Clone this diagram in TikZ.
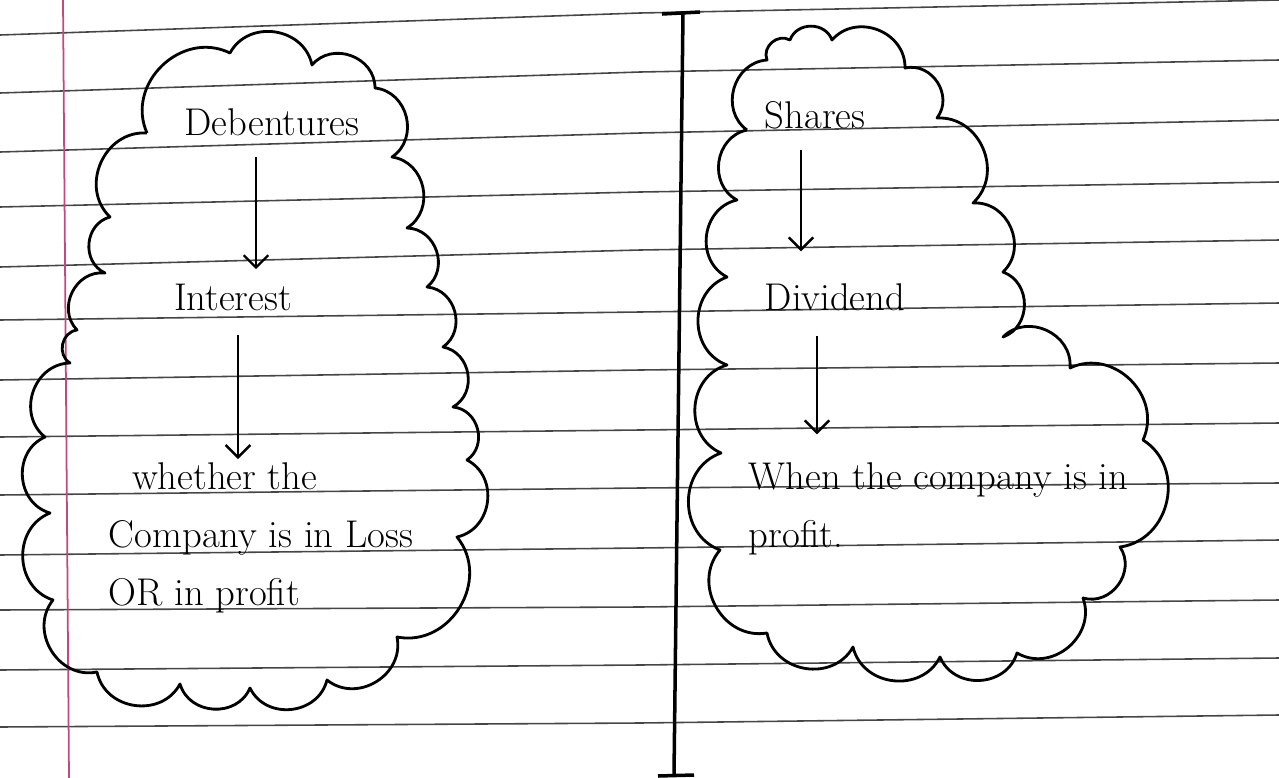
\documentclass[tikz,border=0pt]{standalone}
\usepackage{tikz}
\usetikzlibrary{arrows.meta,positioning}
\definecolor{ruleline}{RGB}{70,70,70}
\definecolor{marginred}{RGB}{196,72,128}

\begin{document}
\begin{tikzpicture}[x=0.02cm, y=-0.02cm,
  ruled/.style={ruleline, line width=0.9pt},
  cloud/.style={line width=1.6pt, line join=round},
  scallop/.style={bend left=70, looseness=1.2},
  word/.style={font=\fontsize{22}{33}\selectfont, inner sep=2pt},
  note/.style={word, align=left, anchor=north west},
  flow/.style={-{Straight Barb[length=7pt,width=14pt]}, line width=1.4pt}
]
\useasboundingbox (0,0) rectangle (1279,778);

% notebook page
\foreach \yl/\ym/\yr in {35/13/0, 93/72/60, 152/133/120, 207/192/182, 267/250/240,
  320/312/303, 380/370/363, 437/430/423, 495/488/483, 555/548/540,
  610/607/600, 670/665/658, 727/723/715}
  \draw[ruled] (0,\yl) -- (640,\ym) -- (1279,\yr);
\draw[marginred, line width=1pt] (63,0) -- (69,778);

% divider
\draw[line width=2pt] (683,13) -- (674,775);
\draw[line width=2pt] (662,14) -- (700,12);
\draw[line width=2pt] (658,776) -- (694,775);

% left cloud
\draw[cloud] (147,133) to[scallop] (230,53) to[scallop] (312,65) to[scallop] (375,88)
  to[scallop] (392,157) to[scallop] (407,228) to[scallop] (427,287) to[scallop] (443,347)
  to[scallop] (453,407) to[scallop] (467,460) to[scallop] (457,537) to[scallop] (397,637)
  to[scallop] (327,680) to[scallop] (250,688) to[scallop] (180,684) to[scallop] (97,672)
  to[scallop] (53,600) to[scallop] (50,513) to[scallop] (45,437) to[scallop] (70,363)
  to[scallop] (77,330) to[scallop] (105,273) to[scallop] (110,217) to[scallop] (147,133);

% right cloud
\draw[cloud] (747,130) to[scallop] (767,60) to[scallop] (790,40) to[scallop] (832,40)
  to[scallop] (905,68) to[scallop] (937,118) to[scallop] (973,203) to[scallop] (1003,272)
  to[scallop] (1003,337) to[scallop] (1070,368) to[scallop] (1143,440) to[scallop] (1120,547)
  to[scallop] (1083,598) to[scallop] (1017,653) to[scallop] (940,657) to[scallop] (853,647)
  to[scallop] (767,633) to[scallop] (720,550) to[scallop] (721,453) to[scallop] (727,365)
  to[scallop] (727,277) to[scallop] (737,200) to[scallop] (747,130);

% left column
\node[word] (deb) at (272,122) {Debentures};
\node[word] (int) at (233,297) {Interest};
\node[note] (lossprofit) at (105,459) {\hspace{0.6em}whether the\\Company is in Loss\\OR in profit};

% right column
\node[word] (shr) at (815,115) {Shares};
\node[word] (div) at (835,297) {Dividend};
\node[note] (inprofit) at (745,459) {When the company is in\\profit.};

\draw[flow, shorten <=10pt, shorten >=6pt] (deb.south -| 256,0) -- (int.north -| 256,0);
\draw[flow, shorten <=12pt] (int.south -| 238,0) -- (lossprofit.north -| 238,0);
\draw[flow, shorten <=10pt, shorten >=16pt] (shr.south -| 801,0) -- (div.north -| 801,0);
\draw[flow, shorten <=12pt, shorten >=14pt] (div.south -| 817,0) -- (inprofit.north -| 817,0);
\end{tikzpicture}
\end{document}
